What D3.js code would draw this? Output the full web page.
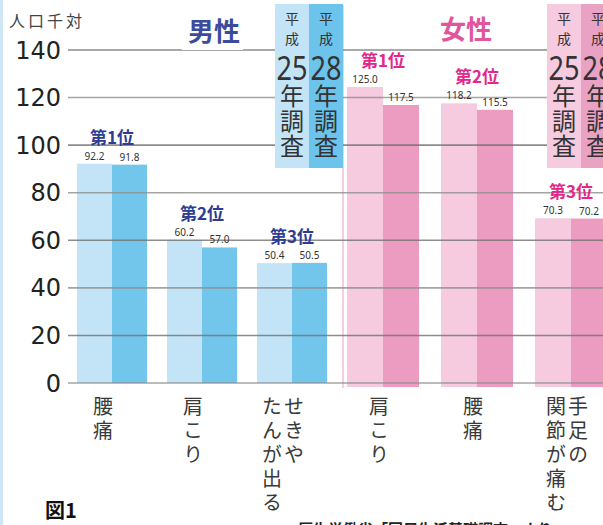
<html>
<head>
<meta charset="utf-8">
<script src="https://cdn.jsdelivr.net/npm/d3@7"></script>
<style>
  body { margin: 0; background: #fff; }
  svg text { font-family: "Noto Sans CJK JP", "Noto Sans", sans-serif; }
  .vert { writing-mode: vertical-rl; text-orientation: upright; }
</style>
</head>
<body>
<div id="chart"></div>
<script>
// data
var years = ["平成25年調査", "平成28年調査"];
var yTicks = [0, 20, 40, 60, 80, 100, 120, 140];
var ranks = ["第1位", "第2位", "第3位"];

var maleCategories = ["腰痛", "肩こり", "せきや たんが出る"];
var maleH25 = [92.2, 60.2, 50.4];
var maleH28 = [91.8, 57.0, 50.5];

var femaleCategories = ["肩こり", "腰痛", "手足の 関節が痛む"];
var femaleH25 = [125.0, 118.2, 70.3];
var femaleH28 = [117.5, 115.5, 70.2];

var width = 603, height = 525;

var svg = d3.select("#chart").append("svg")
  .attr("width", width).attr("height", height);

svg.append("rect").attr("x", 1.5).attr("y", -2).attr("width", width).attr("height", height + 4)
  .attr("fill", "#fff").attr("stroke", "#cfe6f4").attr("stroke-width", 3);

var yM = d3.scaleLinear().domain([0, 140]).range([383, 50]);
var yF = d3.scaleLinear().domain([0, 140]).range([387, 51]);

var xM = d3.scaleBand().domain(maleCategories).range([77, 327]).paddingInner(0.222);
var xF = d3.scaleBand().domain(femaleCategories).range([347, 607]).paddingInner(0.234);
var fmt = d3.format(".1f");

var sections = [
  { cats: maleCategories, a: maleH25, b: maleH28, x: xM, y: yM,
    colors: ["#c2e4f6", "#72c6ec"], rank: "#2e3c92", labelShift: -9 },
  { cats: femaleCategories, a: femaleH25, b: femaleH28, x: xF, y: yF,
    colors: ["#f6cadf", "#ec9cc0"], rank: "#e3288a", labelShift: -4 }
];

// female panel
svg.append("rect").attr("x", 343).attr("y", 5).attr("width", 262).attr("height", 383)
  .attr("fill", "#fff");
svg.append("line").attr("x1", 343).attr("x2", 343).attr("y1", 5).attr("y2", 388)
  .attr("stroke", "#f3cfe0").attr("stroke-width", 2);

// bars
sections.forEach(function (s) {
  var inner = d3.scaleBand().domain(years).range([0, s.x.bandwidth()]);
  var rows = s.cats.map(function (c, i) { return { cat: c, vals: [s.a[i], s.b[i]], i: i }; });
  var g = svg.append("g");
  rows.forEach(function (r) {
    r.vals.forEach(function (v, j) {
      g.append("rect")
        .attr("x", s.x(r.cat) + inner(years[j]))
        .attr("y", s.y(v))
        .attr("width", inner.bandwidth())
        .attr("height", s.y(0) - s.y(v))
        .attr("fill", s.colors[j]);
    });
  });
  s.rows = rows;
  s.inner = inner;
});

// grid lines
svg.append("g").selectAll("line").data(yTicks).join("line")
  .attr("x1", 68).attr("x2", width)
  .attr("y1", function (d) { return yM(d); }).attr("y2", function (d) { return yM(d); })
  .attr("stroke", function (d) { return d % 40 == 20 ? "#707070" : "#8f8f8f"; })
  .attr("stroke-opacity", 0.8)
  .attr("stroke-width", 1.6);

// y axis labels
svg.append("g").selectAll("text").data(yTicks).join("text")
  .attr("x", 61).attr("y", function (d) { return yM(d); })
  .attr("dy", "0.36em").attr("text-anchor", "end")
  .attr("font-size", 24).attr("fill", "#222")
  .style("font-family", "'DejaVu Sans', sans-serif")
  .text(function (d) { return d; });

svg.append("text").attr("x", 9).attr("y", 27).attr("font-size", 16).attr("fill", "#444")
  .attr("letter-spacing", 3)
  .text("人口千対");

// value labels, ranks, category labels
sections.forEach(function (s) {
  s.rows.forEach(function (r) {
    r.vals.forEach(function (v, j) {
      svg.append("text")
        .attr("x", s.x(r.cat) + s.inner(years[j]) + s.inner.bandwidth() / 2)
        .attr("y", s.y(v) - 4)
        .attr("text-anchor", "middle").attr("font-size", 10).attr("fill", "#333")
        .style("font-family", "'Noto Sans', sans-serif")
        .text(fmt(v));
    });
    var cx = s.x(r.cat) + s.x.bandwidth() / 2;
    svg.append("text")
      .attr("x", cx).attr("y", s.y(d3.max(r.vals)) - 20)
      .attr("text-anchor", "middle").attr("font-size", 17).attr("font-weight", "bold")
      .attr("fill", s.rank)
      .text(ranks[r.i]);

    var cols = r.cat.split(" ");
    cols.forEach(function (col, k) {
      var colX = cx + s.labelShift + (cols.length - 1) * 11 - k * 22;
      svg.append("text").attr("class", "vert")
        .attr("x", colX).attr("y", 396)
        .attr("font-size", 20).attr("letter-spacing", 4).attr("fill", "#3a3a3a")
        .text(col);
    });
  });
});

// titles
svg.append("rect").attr("x", 182).attr("y", 12).attr("width", 61).attr("height", 38).attr("fill", "#fff");
svg.append("text").attr("x", 214).attr("y", 41).attr("text-anchor", "middle")
  .attr("font-size", 26).attr("font-weight", "bold").attr("fill", "#3d4b9c").text("男性");
svg.append("text").attr("x", 466).attr("y", 39).attr("text-anchor", "middle")
  .attr("font-size", 26).attr("font-weight", "bold").attr("fill", "#e0559b").text("女性");

// legend boxes
var legends = [
  { x: 275, colors: ["#c2e4f6", "#6cc3ec"] },
  { x: 547, colors: ["#f6cadf", "#eaa2c4"] }
];
legends.forEach(function (l) {
  years.forEach(function (yr, j) {
    var bx = l.x + j * 34;
    svg.append("rect").attr("x", bx).attr("y", 4).attr("width", 34).attr("height", 164)
      .attr("fill", l.colors[j]);
    var cx = bx + 17;
    svg.append("text").attr("class", "vert").attr("x", cx).attr("y", 12)
      .attr("font-size", 14).attr("letter-spacing", 6).attr("fill", "#333")
      .text(yr.slice(0, 2));
    svg.append("text").attr("x", cx).attr("y", 80).attr("text-anchor", "middle")
      .attr("font-size", 32).attr("fill", "#333")
      .attr("textLength", 31).attr("lengthAdjust", "spacingAndGlyphs")
      .style("font-family", "'Noto Sans', sans-serif")
      .text(yr.slice(2, 4));
    svg.append("text").attr("class", "vert").attr("x", cx).attr("y", 84)
      .attr("font-size", 24).attr("letter-spacing", 1).attr("fill", "#333")
      .text(yr.slice(4));
  });
});

// footer
svg.append("text").attr("x", 45).attr("y", 518).attr("font-size", 20).attr("font-weight", "bold")
  .attr("fill", "#111").text("図1");
svg.append("text").attr("x", 298).attr("y", 535).attr("font-size", 15).attr("font-weight", "bold")
  .attr("fill", "#222").text("厚生労働省「国民生活基礎調査」より");
</script>
</body>
</html>
